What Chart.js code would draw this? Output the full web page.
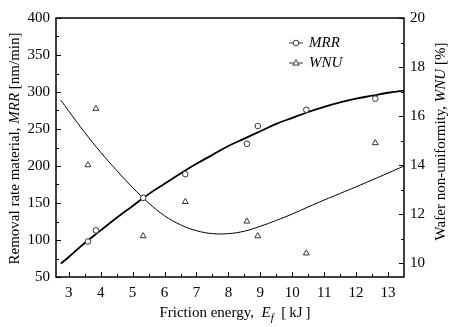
<!DOCTYPE html>
<html lang="en">
<head>
<meta charset="UTF-8">
<title>MRR and WNU vs friction energy</title>
<script src="https://cdn.jsdelivr.net/npm/chart.js"></script>
<style>
  html, body { margin: 0; padding: 0; background: #fff; }
</style>
</head>
<body>
<canvas id="chart" width="450" height="327"></canvas>
<script>
// measured points
var energy = [3.6, 3.85, 5.33, 6.65, 8.58, 8.92, 10.44, 12.6];
var mrr = [98, 113, 157, 189, 230, 254, 276, 291];
var wnu = [14.0, 16.3, 11.1, 12.5, 11.7, 11.1, 10.4, 14.9];

// fitted curves
var mrrFitX = [2.75, 3, 3.5, 4, 4.5, 5, 5.5, 6, 6.5, 7, 7.5, 8, 8.5, 9, 9.5, 10, 10.5, 11, 11.5, 12, 12.5, 13, 13.5];
var mrrFitY = [68, 77, 96, 113, 130, 146, 162, 176, 190, 203, 215, 227, 237, 247, 257, 265, 273, 280, 286, 291, 295, 299, 302];
var wnuFitX = [2.75, 3, 3.5, 4, 4.5, 5, 5.5, 6, 6.5, 7, 7.5, 8, 8.5, 9, 9.5, 10, 10.5, 11, 11.5, 12, 12.5, 13, 13.5];
var wnuFitY = [16.65, 16.2, 15.33, 14.52, 13.78, 13.08, 12.45, 11.93, 11.56, 11.32, 11.2, 11.2, 11.3, 11.5, 11.74, 12.0, 12.29, 12.57, 12.84, 13.11, 13.39, 13.67, 13.96];

var xTicks = [3, 4, 5, 6, 7, 8, 9, 10, 11, 12, 13];
var mrrTicks = [50, 100, 150, 200, 250, 300, 350, 400];
var wnuTicks = [10, 12, 14, 16, 18, 20];

var seriesNames = ['MRR', 'WNU'];

var FONT = "'Liberation Serif', 'Times New Roman', serif";
var markColor = '#333';

function pts(xs, ys) {
    return xs.map(function (x, i) { return { x: x, y: ys[i] }; });
}

function mids(vals) {
    var out = [];
    for (var i = 1; i < vals.length; i++) out.push((vals[i - 1] + vals[i]) / 2);
    return out;
}

// text made of upright / italic pieces, centred on (cx, cy)
function drawRich(ctx, parts, cx, cy) {
    var total = 0;
    parts.forEach(function (p) {
        ctx.font = (p.italic ? 'italic ' : '') + (p.size || 15) + 'px ' + FONT;
        p.w = ctx.measureText(p.t).width;
        total += p.w;
    });
    var x = cx - total / 2;
    ctx.textAlign = 'left';
    ctx.textBaseline = 'alphabetic';
    ctx.fillStyle = '#000';
    parts.forEach(function (p) {
        ctx.font = (p.italic ? 'italic ' : '') + (p.size || 15) + 'px ' + FONT;
        ctx.fillText(p.t, x, cy + 5 + (p.dy || 0));
        x += p.w;
    });
}

function drawMarker(ctx, style, x, y, r) {
    ctx.beginPath();
    if (style === 'triangle') {
        ctx.moveTo(x, y - r);
        ctx.lineTo(x + r * 0.95, y + r * 0.6);
        ctx.lineTo(x - r * 0.95, y + r * 0.6);
        ctx.closePath();
    } else {
        ctx.arc(x, y, r, 0, Math.PI * 2);
    }
    ctx.fillStyle = '#fff';
    ctx.fill();
    ctx.stroke();
}

var framePlugin = {
    id: 'frame',
    afterDraw: function (chart) {
        var ctx = chart.ctx;
        var a = chart.chartArea;
        var sx = chart.scales.x, sy = chart.scales.y, sy1 = chart.scales.y1;
        ctx.save();

        // box
        ctx.strokeStyle = '#000';
        ctx.lineWidth = 1.5;
        ctx.strokeRect(a.left, a.top, a.right - a.left, a.bottom - a.top);

        // inward ticks
        ctx.lineWidth = 1;
        function ticks(scale, vals, len, side) {
            vals.forEach(function (v) {
                var p = Math.round(scale.getPixelForValue(v)) + 0.5;
                ctx.beginPath();
                if (side === 'bottom') { ctx.moveTo(p, a.bottom); ctx.lineTo(p, a.bottom - len); }
                if (side === 'left') { ctx.moveTo(a.left, p); ctx.lineTo(a.left + len, p); }
                if (side === 'right') { ctx.moveTo(a.right, p); ctx.lineTo(a.right - len, p); }
                ctx.stroke();
            });
        }
        ticks(sx, xTicks, 5, 'bottom');
        ticks(sx, mids(xTicks), 3, 'bottom');
        ticks(sy, mrrTicks, 5, 'left');
        ticks(sy, mids(mrrTicks), 3, 'left');
        ticks(sy1, wnuTicks, 5, 'right');
        ticks(sy1, mids(wnuTicks), 3, 'right');

        // axis titles
        drawRich(ctx, [
            { t: 'Friction energy,  ' },
            { t: 'E', italic: true },
            { t: 'f', italic: true, size: 11, dy: 4 },
            { t: '  [\u2009kJ\u2009]' }
        ], (a.left + a.right) / 2 + 5, a.bottom + 35);

        ctx.save();
        ctx.translate(14, (a.top + a.bottom) / 2 + 1);
        ctx.rotate(-Math.PI / 2);
        drawRich(ctx, [
            { t: 'Removal rate material, ' },
            { t: 'MRR', italic: true },
            { t: ' [nm/min]' }
        ], 0, 0);
        ctx.restore();

        ctx.save();
        ctx.translate(440, (a.top + a.bottom) / 2 - 6);
        ctx.rotate(-Math.PI / 2);
        drawRich(ctx, [
            { t: 'Wafer non-uniformity, ' },
            { t: 'WNU', italic: true },
            { t: ' [%]' }
        ], 0, 0);
        ctx.restore();

        // legend: line with marker
        [0, 1].forEach(function (i) {
            var ds = chart.data.datasets[i];
            var y = a.top + 25 + i * 20;
            var x0 = a.right - 115;
            ctx.strokeStyle = markColor;
            ctx.lineWidth = 1;
            ctx.beginPath();
            ctx.moveTo(x0, y);
            ctx.lineTo(x0 + 14, y);
            ctx.stroke();
            drawMarker(ctx, ds.pointStyle, x0 + 7, y, ds.pointRadius);
            ctx.fillStyle = '#000';
            ctx.font = 'italic 15px ' + FONT;
            ctx.textAlign = 'left';
            ctx.textBaseline = 'middle';
            ctx.fillText(ds.label, x0 + 20, y);
        });

        ctx.restore();
    }
};

function fixedTicks(vals) {
    return function (scale) {
        scale.ticks = vals.map(function (v) { return { value: v }; });
    };
}

var tickFont = { family: FONT, size: 15 };

new Chart(document.getElementById('chart').getContext('2d'), {
    type: 'scatter',
    data: {
        datasets: [{
            label: seriesNames[0],
            data: pts(energy, mrr),
            yAxisID: 'y',
            pointStyle: 'circle',
            pointRadius: 2.8,
            borderColor: markColor,
            backgroundColor: '#fff',
            borderWidth: 1,
            order: 0
        }, {
            label: seriesNames[1],
            data: pts(energy, wnu),
            yAxisID: 'y1',
            pointStyle: 'triangle',
            pointRadius: 3.4,
            borderColor: markColor,
            backgroundColor: '#fff',
            borderWidth: 1,
            order: 0
        }, {
            label: 'MRR fit',
            type: 'line',
            data: pts(mrrFitX, mrrFitY),
            yAxisID: 'y',
            borderColor: '#000',
            borderWidth: 1.8,
            pointRadius: 0,
            tension: 0.4,
            fill: false,
            order: 1
        }, {
            label: 'WNU fit',
            type: 'line',
            data: pts(wnuFitX, wnuFitY),
            yAxisID: 'y1',
            borderColor: '#000',
            borderWidth: 1,
            pointRadius: 0,
            tension: 0.4,
            fill: false,
            order: 1
        }]
    },
    options: {
        responsive: false,
        animation: false,
        layout: { padding: { top: 18, left: 0, right: 0, bottom: 0 } },
        plugins: { legend: { display: false }, tooltip: { enabled: false } },
        scales: {
            x: {
                type: 'linear',
                min: 2.6,
                max: 13.5,
                afterBuildTicks: fixedTicks(xTicks),
                afterFit: function (s) { s.height = 50; },
                grid: { display: false, drawTicks: false },
                border: { display: false },
                ticks: { font: tickFont, color: '#000', padding: 7, maxRotation: 0 }
            },
            y: {
                type: 'linear',
                position: 'left',
                min: 50,
                max: 400,
                afterBuildTicks: fixedTicks(mrrTicks),
                afterFit: function (s) { s.width = 56; },
                grid: { display: false, drawTicks: false },
                border: { display: false },
                ticks: { font: tickFont, color: '#000', padding: 6 }
            },
            y1: {
                type: 'linear',
                position: 'right',
                min: 9.43,
                max: 20,
                afterBuildTicks: fixedTicks(wnuTicks),
                afterFit: function (s) { s.width = 46; },
                grid: { display: false, drawTicks: false },
                border: { display: false },
                ticks: { font: tickFont, color: '#000', padding: 6 }
            }
        }
    },
    plugins: [framePlugin]
});
</script>
</body>
</html>
